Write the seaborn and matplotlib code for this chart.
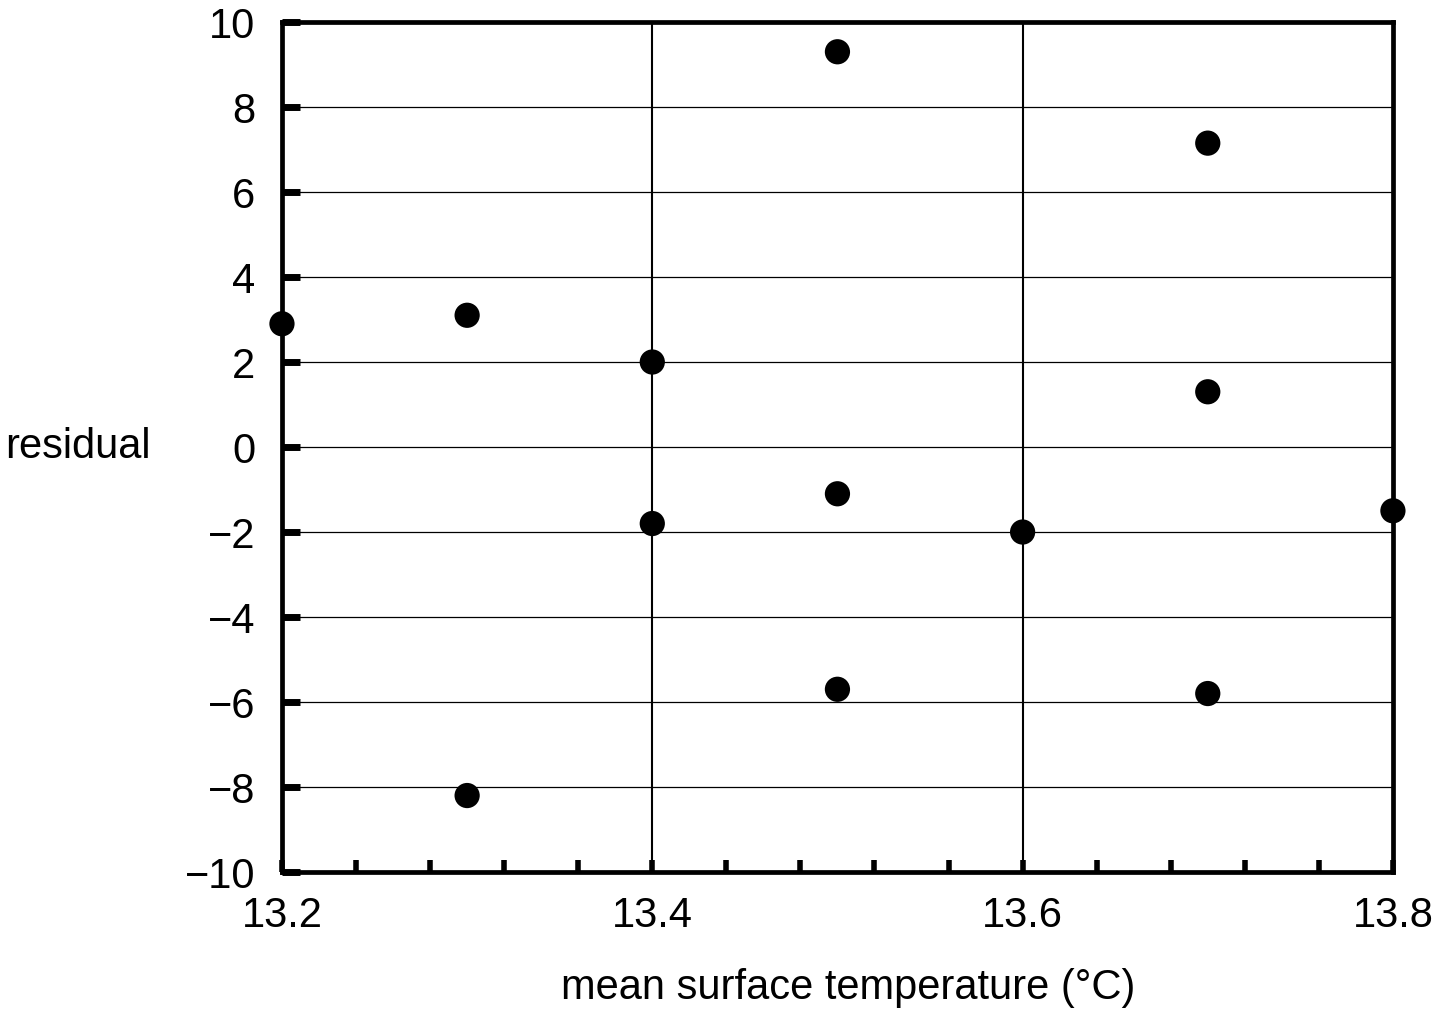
import pandas as pd
import matplotlib
matplotlib.use("Agg")
import matplotlib.pyplot as plt
from matplotlib.ticker import MultipleLocator
import seaborn as sns

# residuals
temperature = [13.2, 13.3, 13.3, 13.4, 13.4, 13.5, 13.5, 13.5, 13.6, 13.7, 13.7, 13.7, 13.8]
residual = [2.9, 3.1, -8.2, 2.0, -1.8, 9.3, -1.1, -5.7, -2.0, 7.15, 1.3, -5.8, -1.5]

df = pd.DataFrame({"temperature": temperature, "residual": residual})

sns.set_theme(style="white")
plt.rcParams["font.family"] = ["Liberation Sans", "DejaVu Sans"]
plt.rcParams["text.color"] = "black"
plt.rcParams["axes.labelcolor"] = "black"
plt.rcParams["xtick.color"] = "black"
plt.rcParams["ytick.color"] = "black"

fig = plt.figure(figsize=(14.43, 10.24), dpi=100)
ax = fig.add_axes([0.1954, 0.1484, 0.9653 - 0.1954, 0.9785 - 0.1484])

ax.xaxis.grid(True, color="black", linewidth=1.5)
ax.yaxis.grid(True, color="black", linewidth=0.9)
ax.set_axisbelow(True)

sns.scatterplot(data=df, x="temperature", y="residual", ax=ax,
                color="black", edgecolor="none", s=330, clip_on=False, zorder=5)

ax.set_xlim(13.2, 13.8)
ax.set_ylim(-10, 10)
ax.xaxis.set_major_locator(MultipleLocator(0.2))
ax.xaxis.set_minor_locator(MultipleLocator(0.04))
ax.yaxis.set_major_locator(MultipleLocator(2))
ax.set_xticks([13.2, 13.4, 13.6, 13.8])
ax.set_xticklabels(["13.2", "13.4", "13.6", "13.8"])

for sp in ax.spines.values():
    sp.set_linewidth(3.4)
    sp.set_color("black")

ax.tick_params(axis="y", which="major", direction="in", length=13, width=5,
               labelsize=30, pad=19, left=True, right=False)
ax.tick_params(axis="x", which="both", direction="in", length=9, width=4,
               labelsize=30, pad=17, bottom=True, top=False)

ax.set_xlabel("mean surface temperature (°C)", fontsize=30)
ax.xaxis.set_label_coords(0.51, -0.136)
ax.xaxis.label.set_va("center")
ax.set_ylabel("residual", fontsize=30, rotation=0, ha="left", va="center")
ax.yaxis.set_label_coords(-0.249, 0.5)

plt.savefig("out.png", dpi=100)
